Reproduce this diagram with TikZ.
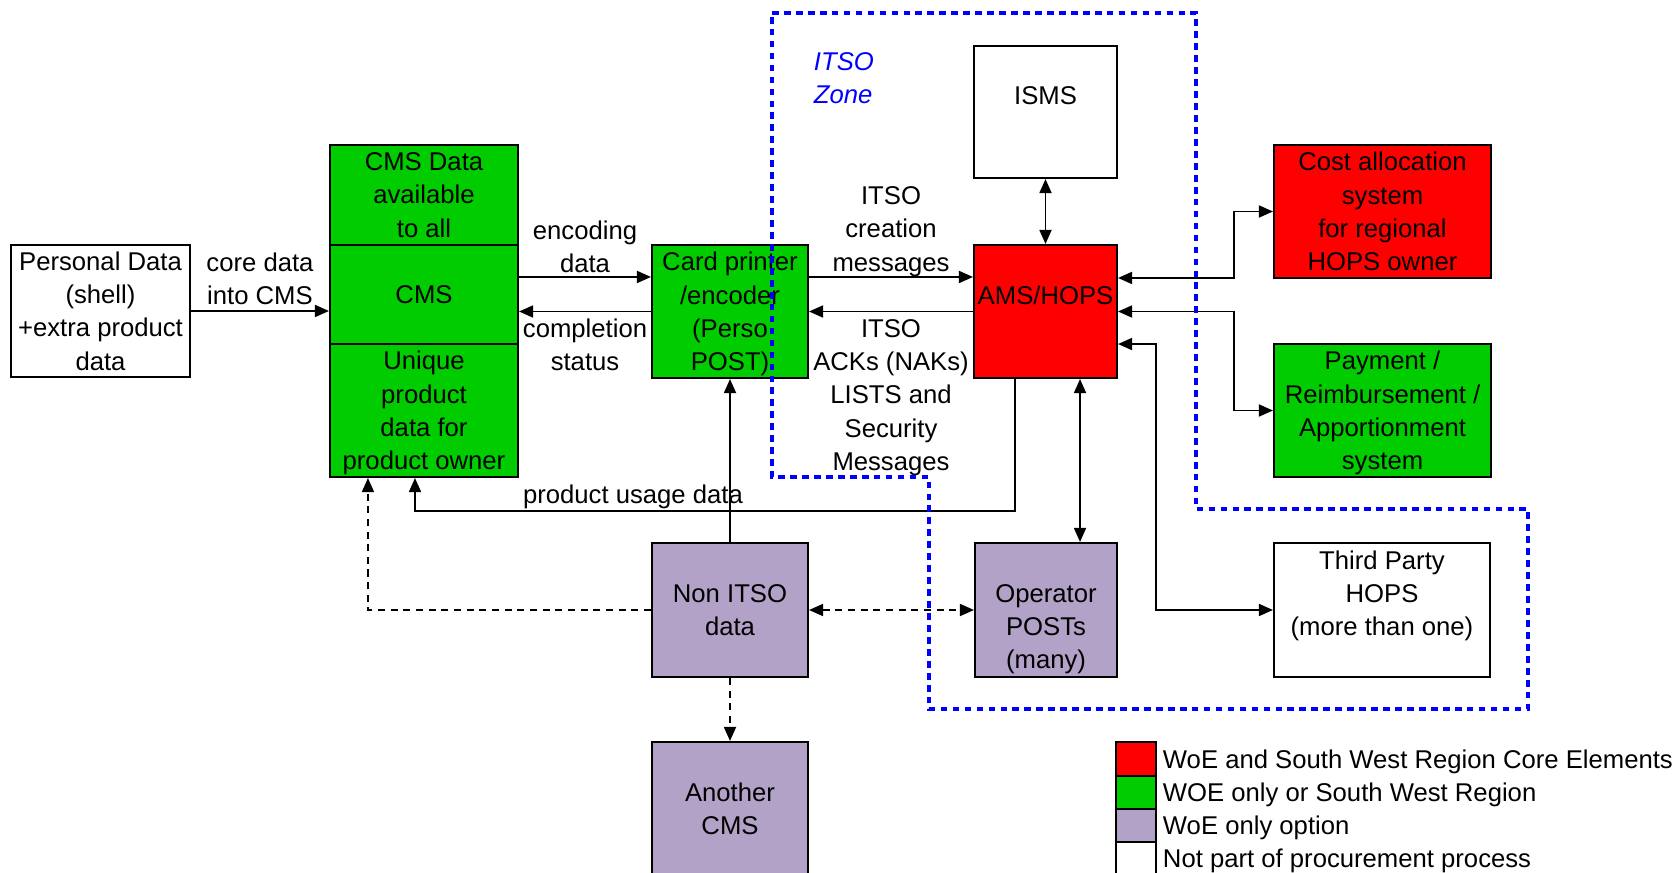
\documentclass[tikz,border=0pt]{standalone}
\usepackage{fontspec}
\setmainfont{Liberation Sans}
\usetikzlibrary{arrows.meta,calc}

\definecolor{woered}{RGB}{255,0,0}
\definecolor{woegreen}{RGB}{0,204,0}
\definecolor{woelilac}{RGB}{178,162,199}
\definecolor{zoneblue}{RGB}{0,0,255}

\begin{document}
\begin{tikzpicture}[x=.01cm, y=-.01cm, font=\fontsize{7.3}{9.45}\selectfont,
    >={Triangle[length=4pt,width=3.4pt]}, line width=.55pt,
    blk/.style={draw, align=center, inner sep=0pt, minimum height=1.33cm},
    lbl/.style={align=center, inner sep=1pt},
    dsh/.style={dash pattern=on 2pt off 1.6pt},
    zone/.style={draw=zoneblue, line width=1.35pt, dash pattern=on 1.9pt off 1.5pt}]
  \useasboundingbox (0,0) rectangle (1678,873);

  % boxes
  \node[blk, minimum width=1.79cm, minimum height=1.32cm] (pers) at (100.5,311)
    {Personal Data\\(shell)\\+extra product\\data};
  \node[blk, fill=woegreen, minimum width=1.88cm, minimum height=1cm] (cmstop) at (424,195)
    {CMS Data\\available\\to all};
  \node[blk, fill=woegreen, minimum width=1.88cm, minimum height=.99cm] (cmsmid) at (424,294.5) {CMS};
  \node[blk, fill=woegreen, minimum width=1.88cm] (cmsbot) at (424,410.5)
    {Unique\\product\\data for\\\smash{product owner}};
  \node[blk, fill=woegreen, minimum width=1.56cm] (card) at (730,311.5)
    {Card printer\\/encoder\\(Perso\\\smash{POST)}};
  \node[blk, fill=woered, minimum width=1.43cm] (ams) at (1045.5,311.5) {AMS/HOPS\\\vphantom{A}};
  \node[blk, minimum width=1.43cm, minimum height=1.32cm] (isms) at (1045.5,112) {ISMS\\\vphantom{A}};
  \node[blk, fill=woered, minimum width=2.17cm] (cost) at (1382.5,211.5)
    {Cost allocation\\system\\for regional\\HOPS owner};
  \node[blk, fill=woegreen, minimum width=2.17cm] (pay) at (1382.5,410.5)
    {Payment /\\Reimbursement /\\Apportionment\\\smash{system}};
  \node[blk, minimum width=2.16cm, minimum height=1.34cm] (third) at (1382,610)
    {Third Party\\HOPS\\(more than one)\\\mbox{}};
  \node[blk, fill=woelilac, minimum width=1.42cm, minimum height=1.34cm] (oper) at (1046,610)
    {\vphantom{A}\\Operator\\POSTs\\\smash{(many)}};
  \node[blk, fill=woelilac, minimum width=1.56cm, minimum height=1.34cm] (nonitso) at (730,610)
    {Non ITSO\\data};
  \node[blk, fill=woelilac, minimum width=1.56cm] (another) at (730,808.5) {Another\\CMS};

  % labels
  \node[lbl] (coredata) at (260,278.5) {core data\\into CMS};
  \node[lbl] (encdata) at (585,246.5) {encoding\\data};
  \node[lbl] (compl) at (585,345) {completion\\status};
  \node[lbl] (creation) at (891,229) {ITSO\\creation\\\smash{messages}};
  \node[lbl] (acks) at (891,395) {ITSO\\ACKs (NAKs)\\LISTS and\\Security\\\smash{Messages}};
  \node[lbl, text height=5.2pt, text depth=0pt] (usage) at (633,494) {product usage data};
  \node[anchor=west, align=left, inner sep=0pt, text=zoneblue, font=\fontsize{7.3}{9.45}\selectfont\itshape]
    (zonelbl) at (813,78) {ITSO\\Zone};

  % connectors
  \draw[->] (pers.east) -- (pers.east -| cmsmid.west);
  \draw[->] ([yshift=3.45mm]card.west -| cmsmid.east) -- ([yshift=3.45mm]card.west);
  \draw[->] (card.west) -- (card.west -| cmsmid.east);
  \draw[->] ([yshift=3.45mm]card.east) -- ([yshift=3.45mm]ams.west);
  \draw[->] (ams.west) -- (card.east);
  \draw[<->] (isms.south) -- (ams.north);
  \draw[<->] (cost.west) -- ++(-39,0) |- ([yshift=3.35mm]ams.east);
  \draw[<->] (pay.west) -- ++(-39,0) |- (ams.east);
  \draw[<->] (third.west) -- ++(-117,0) |- ([yshift=-3.25mm]ams.east);
  \draw[<->] ([xshift=3.45mm]ams.south) -- ([xshift=3.45mm]ams.south |- oper.north);
  \draw[->] ([xshift=-3.05mm]ams.south) -- ++(0,132) -| ([xshift=-.9mm]cmsbot.south);
  \draw[->] (nonitso.north) -- (card.south);
  \draw[<->, dsh] (nonitso.east) -- (oper.west);
  \draw[->, dsh] (nonitso.west) -| ([xshift=-5.6mm]cmsbot.south);
  \draw[->, dsh] (nonitso.south) -- (another.north);

  % legend
  \foreach \c/\t [count=\i] in {woered/WoE and South West Region Core Elements,
      woegreen/WOE only or South West Region, woelilac/WoE only option,
      white/Not part of procurement process} {
    \node[draw, fill=\c, minimum width=.4cm, minimum height=.332cm, inner sep=0pt]
      (key\i) at (1136,759+33.2*\i-33.2) {};
    \node[anchor=west, inner sep=0pt, text height=5.2pt, text depth=0pt]
      (keytxt\i) at (1162,759+33.2*\i-33.2) {\t};
  }

  % ITSO zone
  \draw[zone] (772,13) -- (1196,13) -- (1196,509) -- (1528,509) -- (1528,709)
    -- (929,709) -- (929,477) -- (772,477) -- cycle;
\end{tikzpicture}
\end{document}
